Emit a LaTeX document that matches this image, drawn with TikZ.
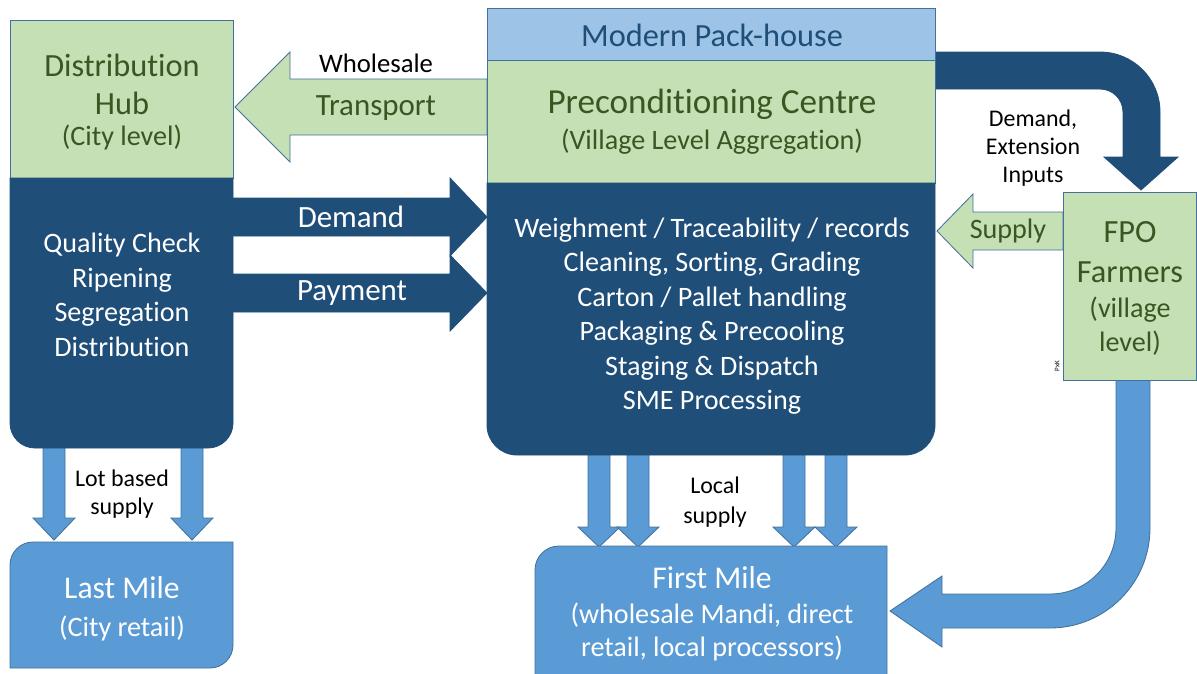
\documentclass[tikz,border=0pt]{standalone}
\usepackage{fontspec}
\setmainfont{Carlito}[Ligatures=CommonOff]

\definecolor{leafgreen}{HTML}{C5E0B4}
\definecolor{leaftext}{HTML}{385723}
\definecolor{navyfill}{HTML}{1F4E79}
\definecolor{skyfill}{HTML}{5B9BD5}
\definecolor{barfill}{HTML}{9DC3E6}
\definecolor{edgeblue}{HTML}{41719C}

\begin{document}
\begin{tikzpicture}[x=0.025cm, y=-0.025cm,
  greenbox/.style={fill=leafgreen, draw=edgeblue, line width=0.6pt},
  navybox/.style={fill=navyfill, draw=navyfill, line width=0.6pt},
  skybox/.style={fill=skyfill, draw=edgeblue, line width=0.6pt},
  label/.style={inner sep=0pt, align=center},
  big/.style={label, font=\fontsize{23}{27}\selectfont},
  mid/.style={label, font=\fontsize{20}{24.5}\selectfont},
  small/.style={label, font=\fontsize{17}{20}\selectfont}]

% page
\clip (0,0) rectangle (1197,673);

% wholesale transport arrow
\filldraw[greenbox] (487,79) -- (290,79) -- (290,52) -- (235,107) -- (290,162) -- (290,135) -- (487,135) -- cycle;

% demand and payment arrows
\filldraw[navybox] (233,198) -- (450,198) -- (450,178) -- (487,217) -- (450,256) -- (450,236) -- (233,236) -- cycle;
\filldraw[navybox] (233,274) -- (450,274) -- (450,255) -- (487,293) -- (450,331) -- (450,312) -- (233,312) -- cycle;

% supply arrow
\filldraw[greenbox] (1063,212) -- (973,212) -- (973,194) -- (937,231) -- (973,268) -- (973,250) -- (1063,250) -- cycle;

% bent arrow to the farmers
\filldraw[navybox] (935,52) -- (1100,52) arc[start angle=-90, end angle=0, radius=60]
  -- (1160,157) -- (1178,157) -- (1141,190) -- (1104,157) -- (1123,157) -- (1123,112)
  arc[start angle=0, end angle=-90, radius=23] -- (935,89) -- cycle;

% bent arrow from the farmers
\filldraw[skybox] (1116,380) -- (1150,380) -- (1150,528) arc[start angle=0, end angle=90, radius=100]
  -- (942,628) -- (942,647) -- (890,611) -- (942,576) -- (942,594) -- (1050,594)
  arc[start angle=90, end angle=0, radius=66] -- cycle;

% lot based supply arrows
\foreach \x in {54,192}
  \filldraw[skybox] (\x-11,445) -- (\x-11,518) -- (\x-21,518) -- (\x,540) -- (\x+21,518) -- (\x+11,518) -- (\x+11,445) -- cycle;

% local supply arrows
\foreach \x in {599,638,794,836}
  \filldraw[skybox] (\x-11,450) -- (\x-11,527) -- (\x-21,527) -- (\x,547) -- (\x+21,527) -- (\x+11,527) -- (\x+11,450) -- cycle;

% distribution hub
\filldraw[greenbox] (10,20) rectangle (233,178);
\filldraw[navybox] (10,178) -- (10,423) arc[start angle=180, end angle=90, radius=25]
  -- (208,448) arc[start angle=90, end angle=0, radius=25] -- (233,178) -- cycle;

% pack-house
\filldraw[fill=barfill, draw=edgeblue, line width=0.6pt] (487,8) rectangle (935,60);
\filldraw[greenbox] (487,60) rectangle (935,183);
\filldraw[navybox] (487,183) -- (487,425) arc[start angle=180, end angle=90, radius=30]
  -- (905,455) arc[start angle=90, end angle=0, radius=30] -- (935,183) -- cycle;

% farmers
\filldraw[greenbox] (1063,192) rectangle (1196,380);

% last mile and first mile
\filldraw[skybox] (10,565) arc[start angle=180, end angle=270, radius=23] -- (233,542)
  -- (233,645) arc[start angle=0, end angle=90, radius=23] -- (10,668) -- cycle;
\filldraw[skybox] (535,570) arc[start angle=180, end angle=270, radius=24] -- (887,546)
  -- (887,700) -- (535,700) -- cycle;

% texts
\node[big, text=navyfill] (pack) at (712,35) {Modern Pack-house};
\node[label, text=leaftext, font=\fontsize{25}{29}\selectfont] (precond) at (712,104) {Preconditioning Centre};
\node[mid, text=leaftext] (village) at (712,142) {(Village Level Aggregation)};
\node[mid, text=white] (packtasks) at (712,316) {Weighment / Traceability / records\\Cleaning, Sorting, Grading\\Carton / Pallet handling\\Packaging \& Precooling\\Staging \& Dispatch\\SME Processing};

\node[big, text=leaftext] (hub) at (122,84) {Distribution\\Hub};
\node[mid, text=leaftext] (hublevel) at (122,137) {(City level)};
\node[mid, text=white] (hubtasks) at (122,295) {Quality Check\\Ripening\\Segregation\\Distribution};

\node[big, text=leaftext, font=\fontsize{23}{28}\selectfont] (fpo) at (1130,252) {FPO\\Farmers};
\node[mid, text=leaftext] (fpolevel) at (1130,326) {(village\\level)};

\node[label, font=\fontsize{19}{22}\selectfont] (wholesale) at (376,63) {Wholesale};
\node[label, text=leaftext, font=\fontsize{22}{26}\selectfont] (transport) at (376,108) {Transport};
\node[label, text=white, font=\fontsize{22}{26}\selectfont] (demand) at (351,217) {Demand};
\node[label, text=white, font=\fontsize{22}{26}\selectfont] (payment) at (352,293) {Payment};
\node[mid, text=leaftext] (supply) at (1008,231) {Supply};
\node[small] (inputs) at (1033,148) {Demand,\\Extension\\Inputs};
\node[small] (lotbased) at (122,494) {Lot based\\supply};
\node[small, font=\fontsize{17}{21}\selectfont] (localsupply) at (715,502) {Local\\supply};

\node[label, text=white, font=\fontsize{22.5}{26}\selectfont] (lastmile) at (122,588) {Last Mile};
\node[mid, text=white] (cityretail) at (122,628) {(City retail)};
\node[label, text=white, font=\fontsize{22.5}{26}\selectfont] (firstmile) at (712,578) {First Mile};
\node[mid, text=white, font=\fontsize{20}{24}\selectfont] (mandi) at (712,632) {(wholesale Mandi, direct\\retail, local processors)};

\node[label, rotate=90, font=\fontsize{5}{6}\selectfont] (pxk) at (1057,366) {PxK};

\end{tikzpicture}
\end{document}
